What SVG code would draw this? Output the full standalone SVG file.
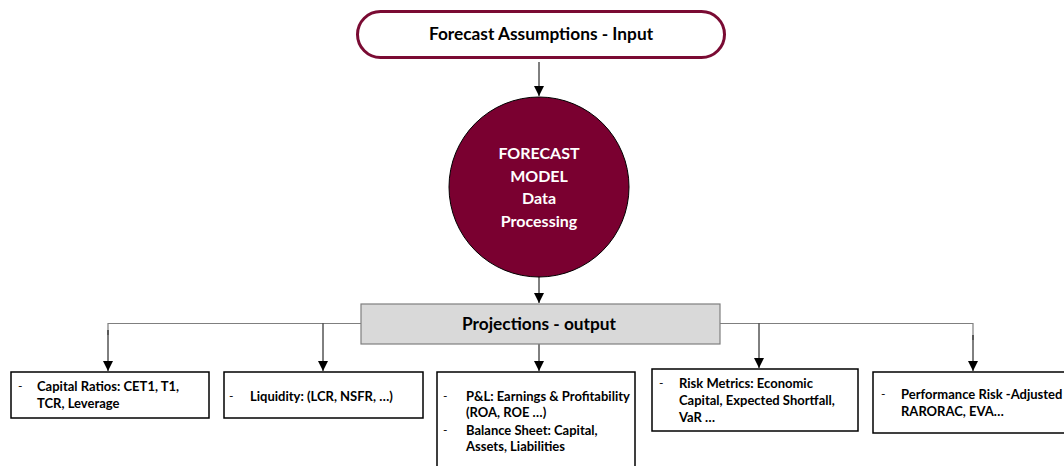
<svg xmlns="http://www.w3.org/2000/svg" width="1064" height="466" viewBox="0 0 1064 466">
  <style>
    .t { font-family: Lato, "Open Sans", "Liberation Sans", sans-serif; font-weight: bold; fill: #000; }
    .title { font-size: 16px; text-anchor: middle; }
    .big { font-size: 17.3px; }
    .white { fill: #fff; }
    .item { font-size: 13px; }
    .dash { font-size: 12px; font-weight: normal; }
    .box { fill: #fff; stroke: #000; stroke-width: 1.5; }
    .link { fill: none; stroke: #000; stroke-width: 1; }
    .bus { fill: none; stroke: #7f7f7f; stroke-width: 1.2; }
  </style>
  <defs>
    <marker id="arrow" viewBox="0 0 10 10" refX="10" refY="5" markerWidth="10" markerHeight="10" markerUnits="userSpaceOnUse" orient="auto">
      <path d="M0,0 L10,5 L0,10 Z" fill="#000"/>
    </marker>
  </defs>

  <rect width="1064" height="466" fill="#fff"/>

  <!-- connectors -->
  <g id="connectors">
    <line class="link" x1="539" y1="62" x2="539" y2="96" marker-end="url(#arrow)"/>
    <line class="link" x1="539" y1="277" x2="539" y2="303" marker-end="url(#arrow)"/>
    <polyline class="bus" points="361,323.5 108,323.5 108,335"/>
    <polyline class="bus" points="720,323.5 973,323.5 973,340"/>
    <line class="link" x1="108" y1="330" x2="108" y2="371" marker-end="url(#arrow)"/>
    <line class="link" x1="323" y1="323.5" x2="323" y2="371" marker-end="url(#arrow)"/>
    <line class="link" x1="539" y1="344" x2="539" y2="371" marker-end="url(#arrow)"/>
    <line class="link" x1="759" y1="323.5" x2="759" y2="368" marker-end="url(#arrow)"/>
    <line class="link" x1="973" y1="335" x2="973" y2="371" marker-end="url(#arrow)"/>
  </g>

  <!-- input -->
  <g id="input">
    <rect x="357.5" y="11.5" width="367" height="46" rx="23" ry="23" fill="#fff" stroke="#7a0b33" stroke-width="3"/>
    <text class="t title big" x="541" y="40">Forecast Assumptions - Input</text>
  </g>

  <!-- model -->
  <g id="model">
    <circle cx="539" cy="187" r="90" fill="#7a0030" stroke="#000" stroke-width="1"/>
    <text class="t title white" x="539" y="159">FORECAST</text>
    <text class="t title white" x="539" y="181.5">MODEL</text>
    <text class="t title white" x="539" y="204">Data</text>
    <text class="t title white" x="539" y="226.5">Processing</text>
  </g>

  <!-- output -->
  <g id="output">
    <rect x="361" y="304" width="359" height="40" fill="#d9d9d9" stroke="#7f7f7f" stroke-width="1.2"/>
    <text class="t title big" x="539" y="330">Projections - output</text>
  </g>

  <g id="capital">
    <rect class="box" x="11" y="372" width="198" height="46"/>
    <text class="t dash" x="18" y="390">-</text>
    <text class="t item" x="37" y="391">Capital Ratios: CET1, T1,</text>
    <text class="t item" x="37" y="408">TCR, Leverage</text>
  </g>

  <g id="liquidity">
    <rect class="box" x="224" y="372" width="199" height="46"/>
    <text class="t dash" x="229" y="400">-</text>
    <text class="t item" x="250" y="401">Liquidity: (LCR, NSFR, …)</text>
  </g>

  <g id="pnl">
    <rect class="box" x="437" y="372" width="198" height="100"/>
    <text class="t dash" x="443" y="400">-</text>
    <text class="t item" x="466" y="401">P&amp;L: Earnings &amp; Profitability</text>
    <text class="t item" x="466" y="417">(ROA, ROE …)</text>
    <text class="t dash" x="443" y="434">-</text>
    <text class="t item" x="466" y="435">Balance Sheet: Capital,</text>
    <text class="t item" x="466" y="451">Assets, Liabilities</text>
  </g>

  <g id="risk">
    <rect class="box" x="652" y="369" width="206" height="62"/>
    <text class="t dash" x="659" y="387">-</text>
    <text class="t item" x="679" y="388">Risk Metrics: Economic</text>
    <text class="t item" x="679" y="405">Capital, Expected Shortfall,</text>
    <text class="t item" x="679" y="422">VaR …</text>
  </g>

  <g id="performance">
    <rect class="box" x="873" y="372" width="200" height="61"/>
    <text class="t dash" x="881" y="398">-</text>
    <text class="t item" x="901" y="399">Performance Risk -Adjusted</text>
    <text class="t item" x="901" y="416">RARORAC, EVA…</text>
  </g>
</svg>
